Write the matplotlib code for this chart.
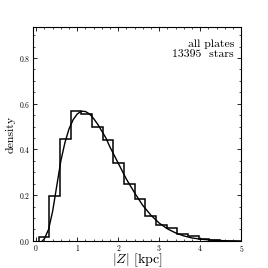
import matplotlib
matplotlib.use("Agg")
import matplotlib.pyplot as plt
from matplotlib.ticker import MultipleLocator
import numpy as np

plt.rcParams['font.family'] = ['cmr10', 'DejaVu Serif']
plt.rcParams['mathtext.fontset'] = 'cm'
plt.rcParams['axes.formatter.use_mathtext'] = True

# histogram (bin edges and densities)
bin_edges = [0.06, 0.32, 0.58, 0.84, 1.10, 1.36, 1.62, 1.88, 2.14, 2.40, 2.66, 2.92, 3.18, 3.44, 3.70, 3.96, 4.22, 4.48]
densities = [0.017, 0.198, 0.445, 0.566, 0.556, 0.500, 0.442, 0.340, 0.250, 0.185, 0.107, 0.068, 0.057, 0.030, 0.020, 0.008, 0.005]

# fitted curve
curve_x = [0.15, 0.2, 0.3, 0.4, 0.5, 0.6, 0.7, 0.8, 0.9, 1.0, 1.1, 1.2, 1.3, 1.4, 1.5, 1.6, 1.7, 1.8, 1.9, 2.0,
           2.2, 2.4, 2.6, 2.8, 3.0, 3.2, 3.4, 3.6, 3.8, 4.0, 4.3, 4.6, 5.0]
curve_y = [0.0, 0.01, 0.05, 0.13, 0.24, 0.35, 0.43, 0.49, 0.53, 0.555, 0.567, 0.566, 0.555, 0.535, 0.51, 0.48,
           0.45, 0.41, 0.375, 0.34, 0.27, 0.21, 0.155, 0.112, 0.078, 0.053, 0.035, 0.022, 0.013, 0.008, 0.003, 0.001, 0.0]

fig = plt.figure(figsize=(2.68, 2.68), dpi=100)
ax = fig.add_axes([0.123, 0.101, 0.777, 0.798])

ax.stairs(densities, bin_edges, color='black', linewidth=1.1)
ax.plot(curve_x, curve_y, color='black', linewidth=1.0)

ax.set_xlim(-0.08, 5)
ax.set_ylim(0, 0.935)
ax.xaxis.set_major_locator(MultipleLocator(1))
ax.xaxis.set_minor_locator(MultipleLocator(0.2))
ax.yaxis.set_major_locator(MultipleLocator(0.2))
ax.yaxis.set_minor_locator(MultipleLocator(0.05))
ax.tick_params(which='both', direction='in', top=True, right=True, labelsize=5.5)
ax.tick_params(axis='x', pad=1.5)
ax.tick_params(axis='y', pad=2)
ax.tick_params(which='major', length=3, width=0.6)
ax.tick_params(which='minor', length=1.5, width=0.5)
for s in ax.spines.values():
    s.set_linewidth(0.8)

ax.set_xlabel(r'$|Z|$ [kpc]', fontsize=10, labelpad=-1.5)
ax.set_ylabel('density', fontsize=8.5, labelpad=2)
ax.text(0.966, 0.94, 'all plates\n13395  stars', transform=ax.transAxes, ha='right', va='top',
        fontsize=8.5, linespacing=1.05)

fig.savefig('out.png', dpi=100)
